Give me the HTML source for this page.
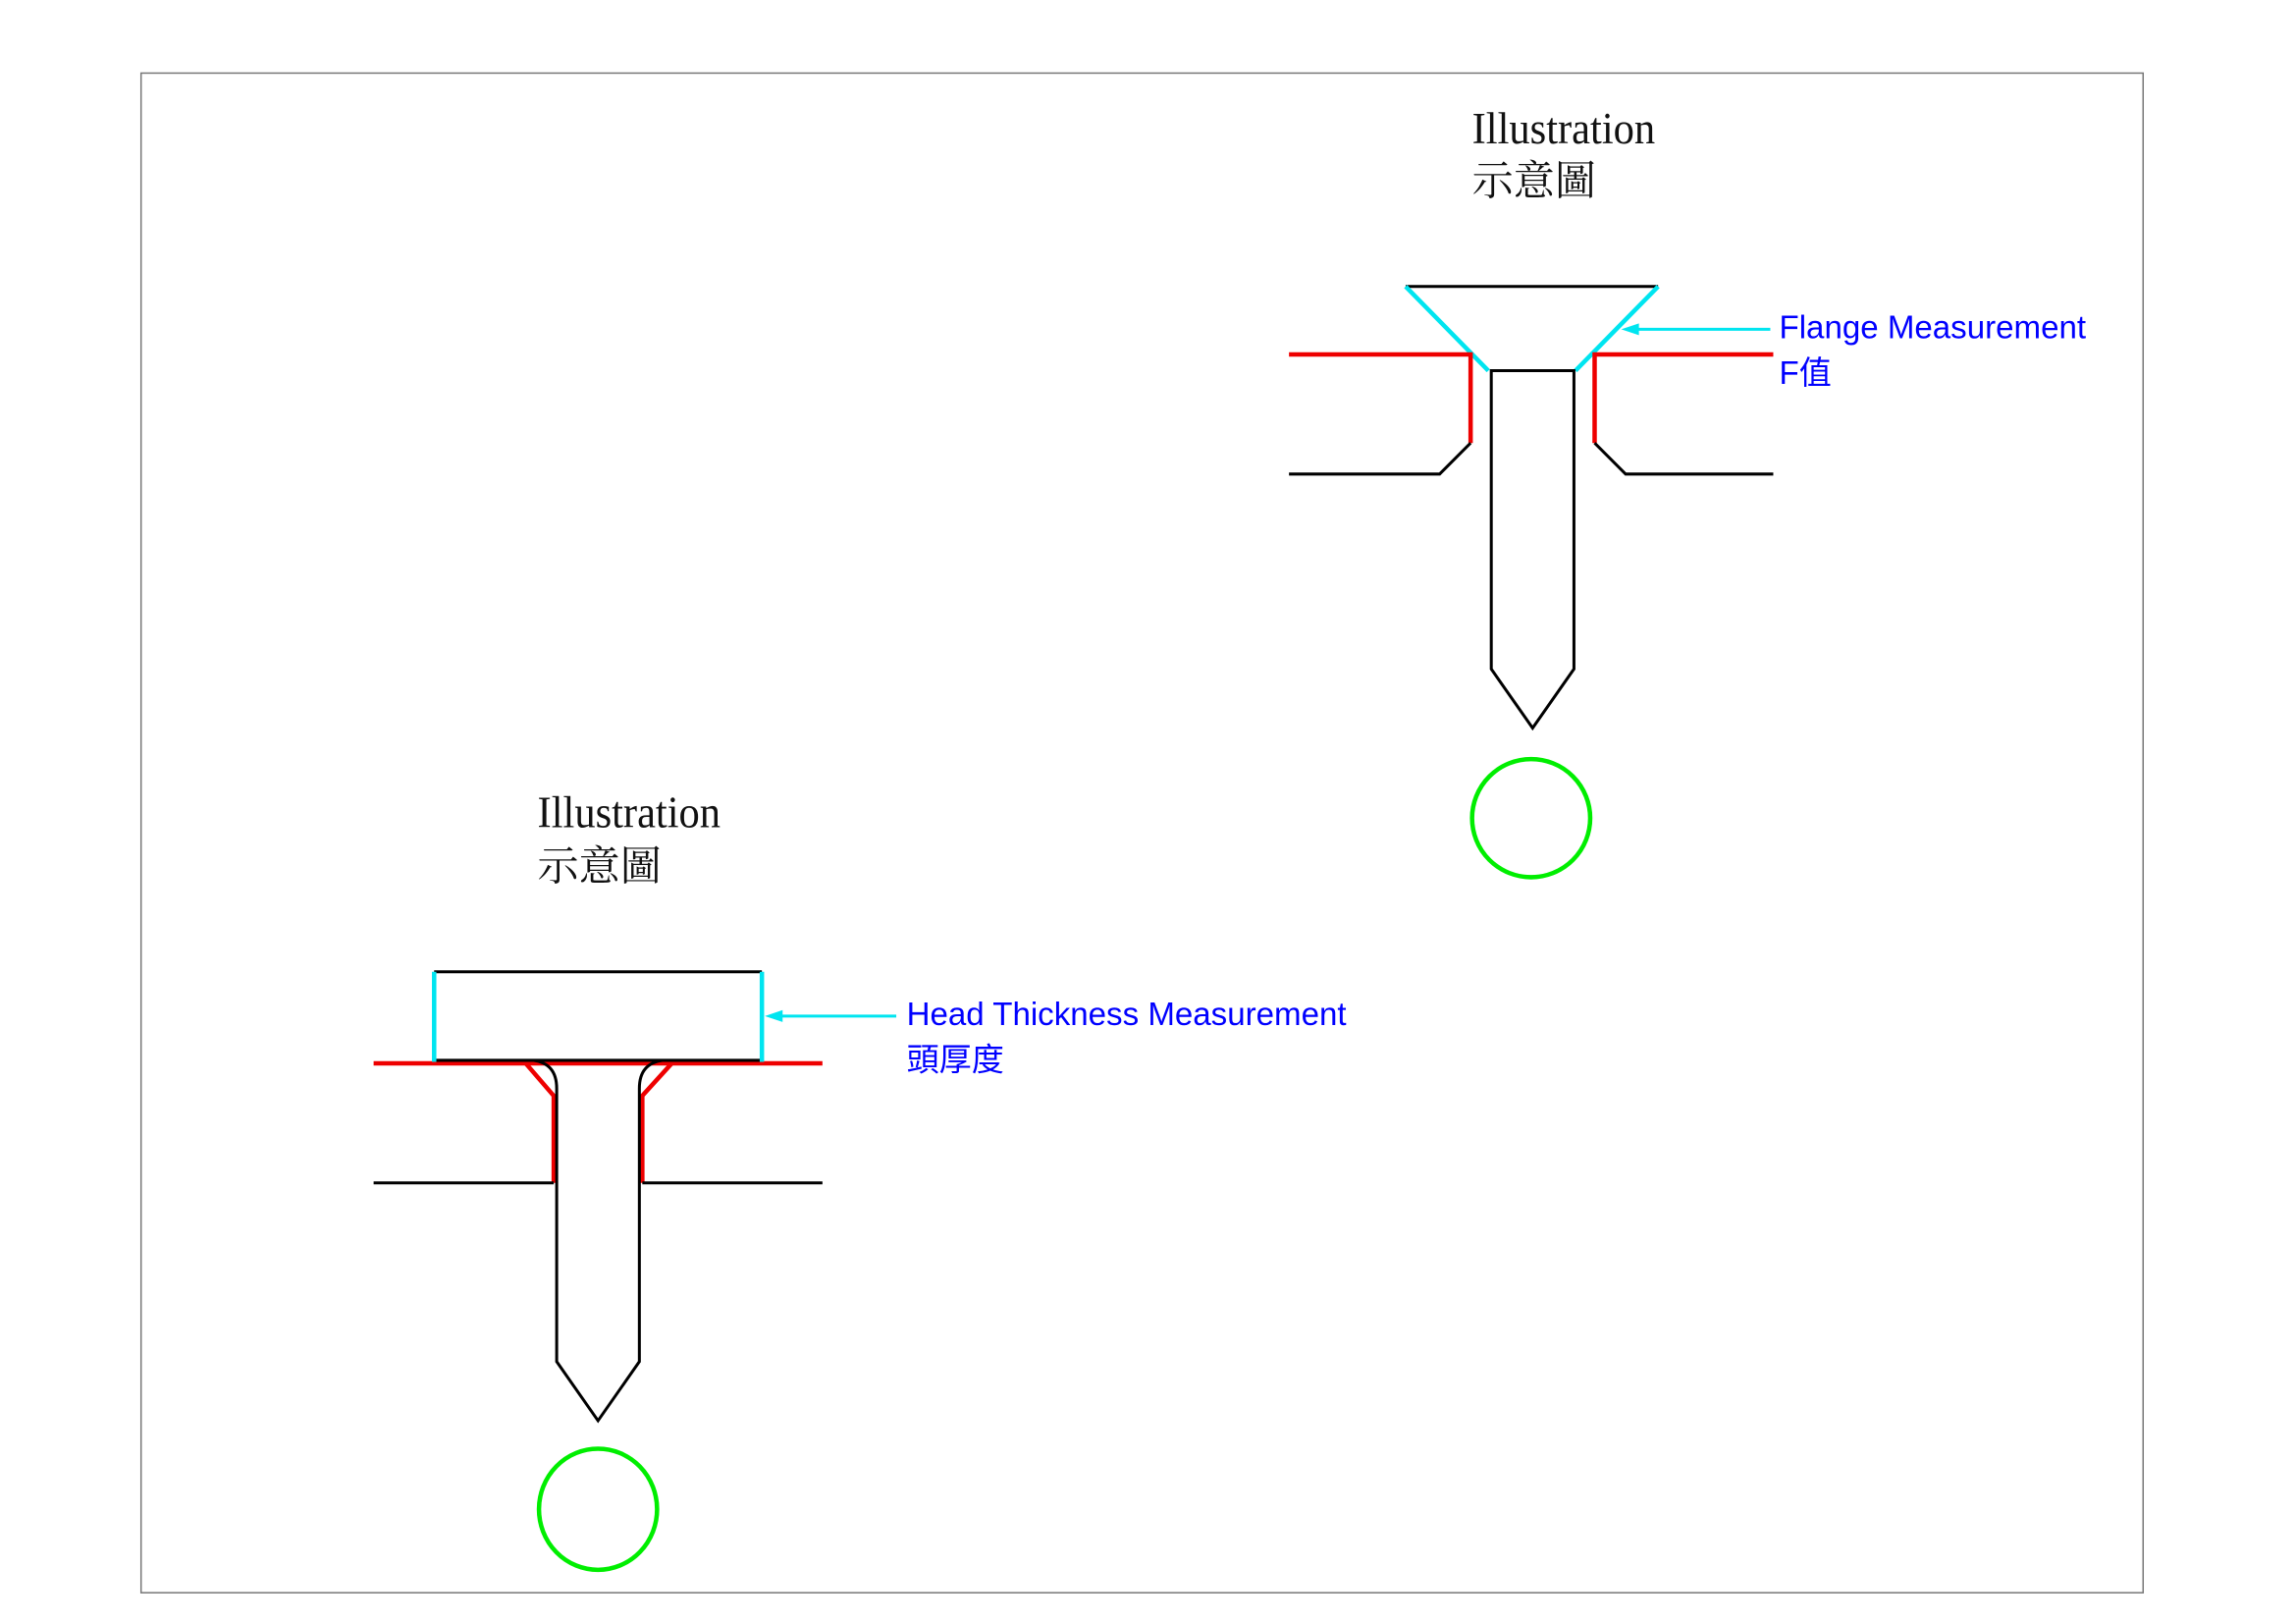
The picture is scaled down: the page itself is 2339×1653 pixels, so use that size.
<!DOCTYPE html>
<html><head><meta charset="utf-8"><style>
html,body{margin:0;padding:0;background:#fff;}
svg{display:block;}
</style></head><body>
<svg width="2339" height="1653" viewBox="0 0 1555 1099" xmlns="http://www.w3.org/2000/svg">
<rect x="0" y="0" width="1555" height="1099" fill="#fff"/>
<rect x="95.5" y="49.5" width="1356" height="1029" fill="none" stroke="#777" stroke-width="1"/>

<!-- Top figure -->
<text x="997" y="97" font-family="'Liberation Serif','Noto Serif CJK SC',serif" font-size="30" fill="#111" textLength="124" lengthAdjust="spacingAndGlyphs">Illustration</text>
<text x="997" y="132" font-family="'Liberation Serif','Noto Serif CJK SC',serif" font-size="28" fill="#111">示意圖</text>

<line x1="952" y1="194" x2="1123" y2="194" stroke="#000" stroke-width="2"/>
<line x1="952" y1="194" x2="1008" y2="251" stroke="#00e5f0" stroke-width="3"/>
<line x1="1123" y1="194" x2="1067" y2="251" stroke="#00e5f0" stroke-width="3"/>
<path d="M1010 251 H1066 V453 L1038 493 L1010 453 Z" fill="none" stroke="#000" stroke-width="2"/>
<polyline points="873,240 996,240 996,300" fill="none" stroke="#e00" stroke-width="3"/>
<polyline points="996,300 975,321 873,321" fill="none" stroke="#000" stroke-width="2"/>
<polyline points="1201,240 1080,240 1080,300" fill="none" stroke="#e00" stroke-width="3"/>
<polyline points="1080,300 1101,321 1201,321" fill="none" stroke="#000" stroke-width="2"/>
<line x1="1199" y1="223" x2="1106" y2="223" stroke="#00e5f0" stroke-width="2"/>
<polygon points="1098,223 1110,219 1110,227" fill="#00e5f0"/>
<text x="1205" y="229" font-family="'Liberation Sans','Noto Sans CJK TC',sans-serif" font-size="22" fill="#00f">Flange Measurement</text>
<text x="1205" y="260" font-family="'Liberation Sans','Noto Sans CJK TC',sans-serif" font-size="22" fill="#00f">F值</text>
<circle cx="1037" cy="554" r="40" fill="none" stroke="#0e0" stroke-width="3"/>

<!-- Bottom figure -->
<text x="364" y="560" font-family="'Liberation Serif','Noto Serif CJK SC',serif" font-size="30" fill="#111" textLength="124" lengthAdjust="spacingAndGlyphs">Illustration</text>
<text x="364" y="596" font-family="'Liberation Serif','Noto Serif CJK SC',serif" font-size="28" fill="#111">示意圖</text>

<line x1="253" y1="720" x2="557" y2="720" stroke="#e00" stroke-width="3"/>
<line x1="294" y1="658" x2="516" y2="658" stroke="#000" stroke-width="2"/>
<line x1="294" y1="718" x2="516" y2="718" stroke="#000" stroke-width="2"/>
<line x1="294" y1="658" x2="294" y2="719" stroke="#00e5f0" stroke-width="3"/>
<line x1="516" y1="658" x2="516" y2="719" stroke="#00e5f0" stroke-width="3"/>
<polyline points="356,720 375,742 375,801" fill="none" stroke="#e00" stroke-width="3"/>
<polyline points="455,720 435,742 435,801" fill="none" stroke="#e00" stroke-width="3"/>
<path d="M361 718 Q377 720 377 737 V922 L405 962 L433 922 V737 Q433 720 449 718" fill="none" stroke="#000" stroke-width="2"/>
<line x1="253" y1="801" x2="375" y2="801" stroke="#000" stroke-width="2"/>
<line x1="435" y1="801" x2="557" y2="801" stroke="#000" stroke-width="2"/>
<line x1="607" y1="688" x2="526" y2="688" stroke="#00e5f0" stroke-width="2"/>
<polygon points="518,688 530,684 530,692" fill="#00e5f0"/>
<text x="614" y="694" font-family="'Liberation Sans','Noto Sans CJK TC',sans-serif" font-size="22" fill="#00f">Head Thickness Measurement</text>
<text x="614" y="725" font-family="'Liberation Sans','Noto Sans CJK TC',sans-serif" font-size="22" fill="#00f">頭厚度</text>
<ellipse cx="405" cy="1022" rx="40" ry="41" fill="none" stroke="#0e0" stroke-width="3"/>
</svg>
</body></html>
